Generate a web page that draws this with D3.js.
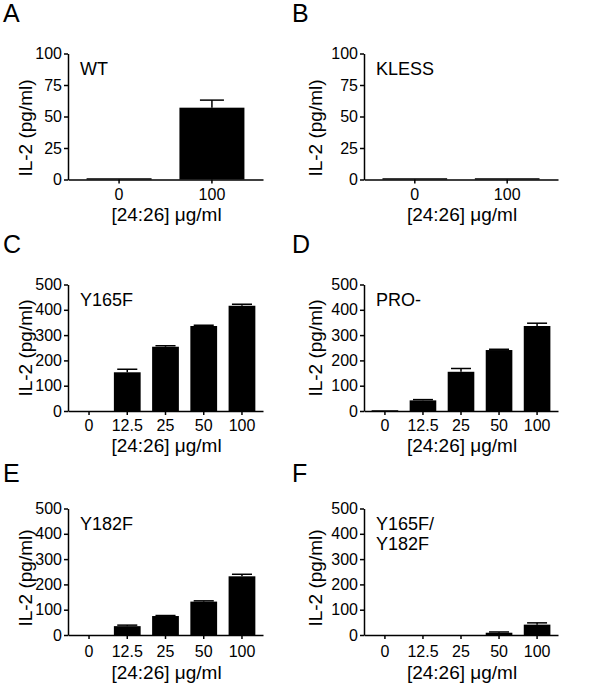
<!DOCTYPE html>
<html><head><meta charset="utf-8">
<script src="https://cdn.jsdelivr.net/npm/d3@7"></script>
<style>body{margin:0;background:#fff}svg{display:block}text{font-family:"Liberation Sans",Arial,sans-serif;fill:#000}</style>
</head><body><svg id="c" width="600" height="688"></svg>
<script>
// ---- data ----
const panelLetters = ["A", "B", "C", "D", "E", "F"];
const panelNames = [["WT"], ["KLESS"], ["Y165F"], ["PRO-"], ["Y182F"], ["Y165F/", "Y182F"]];
const dosesTwo = ["0", "100"];
const dosesFive = ["0", "12.5", "25", "50", "100"];
const yTicksTop = [0, 25, 50, 75, 100];
const yTicksLower = [0, 100, 200, 300, 400, 500];
const xLabel = "[24:26] \u03bcg/ml";
const yLabel = "IL-2 (pg/ml)";

const wtMean = [1, 57];        const wtSem = [0, 6];
const klessMean = [1, 1];      const klessSem = [0, 0];
const y165fMean = [0, 153, 254, 336, 416];  const y165fSem = [0, 12, 4, 3, 6];
const proMean = [3, 42, 155, 241, 336];     const proSem = [0, 3, 13, 3, 11];
const y182fMean = [0, 35, 75, 132, 232];    const y182fSem = [0, 4, 2, 3, 8];
const dblMean = [0, 0, 0, 9, 41];           const dblSem = [0, 0, 0, 3, 7];

const panelData = [
  {doses: dosesTwo, mean: wtMean, sem: wtSem, ticks: yTicksTop},
  {doses: dosesTwo, mean: klessMean, sem: klessSem, ticks: yTicksTop},
  {doses: dosesFive, mean: y165fMean, sem: y165fSem, ticks: yTicksLower},
  {doses: dosesFive, mean: proMean, sem: proSem, ticks: yTicksLower},
  {doses: dosesFive, mean: y182fMean, sem: y182fSem, ticks: yTicksLower},
  {doses: dosesFive, mean: dblMean, sem: dblSem, ticks: yTicksLower}
];

// ---- layout ----
const colX = [[68, 263], [364, 558]];
const rows = [
  {top: 53.5, bottom: 179.5, letterY: 22, tickDy: 20, labelDy: 41, yLabC: 128},
  {top: 284.5, bottom: 411, letterY: 253, tickDy: 20, labelDy: 41, yLabC: 348},
  {top: 508.5, bottom: 635, letterY: 482, tickDy: 22, labelDy: 44, yLabC: 578}
];
const letterX = [3, 292];
const yLabX = [32, 322];
const FONT = '"Liberation Sans",Arial,sans-serif';

const svg = d3.select("#c");

panelData.forEach((p, i) => {
  const col = i % 2, row = Math.floor(i / 2);
  const [x0, x1] = colX[col];
  const r = rows[row];
  const g = svg.append("g");
  const ymax = d3.max(p.ticks);
  const y = d3.scaleLinear().domain([0, ymax]).range([r.bottom, r.top]);
  const x = d3.scaleBand().domain(p.doses).range([x0, x1]).paddingInner(0.3).paddingOuter(0.2);

  // bars
  g.selectAll("rect.bar").data(p.mean).join("rect")
    .attr("x", (d, k) => x(p.doses[k]))
    .attr("width", x.bandwidth())
    .attr("y", d => y(d))
    .attr("height", d => Math.max(0, y(0) - y(d)))
    .attr("fill", "#000");

  // error bars (upper only)
  const capW = Math.min(24, x.bandwidth() * 0.75);
  p.mean.forEach((m, k) => {
    const s = p.sem[k];
    if (s <= 0) return;
    const cx = x(p.doses[k]) + x.bandwidth() / 2;
    g.append("line").attr("x1", cx).attr("x2", cx).attr("y1", y(m)).attr("y2", y(m + s))
      .attr("stroke", "#000").attr("stroke-width", 1.5);
    g.append("line").attr("x1", cx - capW / 2).attr("x2", cx + capW / 2).attr("y1", y(m + s)).attr("y2", y(m + s))
      .attr("stroke", "#000").attr("stroke-width", 1.5);
  });

  // y axis
  const ya = g.append("g").attr("transform", `translate(${x0},0)`)
    .call(d3.axisLeft(y).tickValues(p.ticks).tickSize(4).tickSizeOuter(0).tickPadding(2).tickFormat(d3.format("d")));
  ya.selectAll("path,line").attr("stroke", "#000").attr("stroke-width", 1.5);
  ya.selectAll("text").attr("font-size", 16).attr("font-family", FONT).attr("fill", "#000");

  // x axis
  const xa = g.append("g").attr("transform", `translate(0,${r.bottom})`)
    .call(d3.axisBottom(x).tickSize(4).tickSizeOuter(0).tickPadding(0));
  xa.selectAll("path,line").attr("stroke", "#000").attr("stroke-width", 1.5);
  xa.selectAll("text").attr("font-size", 16).attr("font-family", FONT).attr("fill", "#000")
    .attr("dy", null).attr("y", r.tickDy);

  // x label
  g.append("text").attr("x", (x0 + x1) / 2 + 1).attr("y", r.bottom + r.labelDy)
    .attr("text-anchor", "middle").attr("font-size", 19).text(xLabel);

  // y label
  g.append("text").attr("transform", `translate(${yLabX[col]},${r.yLabC}) rotate(-90)`)
    .attr("text-anchor", "middle").attr("font-size", 19).text(yLabel);

  // panel letter
  g.append("text").attr("x", letterX[col]).attr("y", r.letterY).attr("font-size", 25).text(panelLetters[i]);

  // inner name
  panelNames[i].forEach((t, k) => {
    g.append("text").attr("x", x0 + 12).attr("y", r.top + 21 + k * 20).attr("font-size", 18).text(t);
  });
});
</script></body></html>
